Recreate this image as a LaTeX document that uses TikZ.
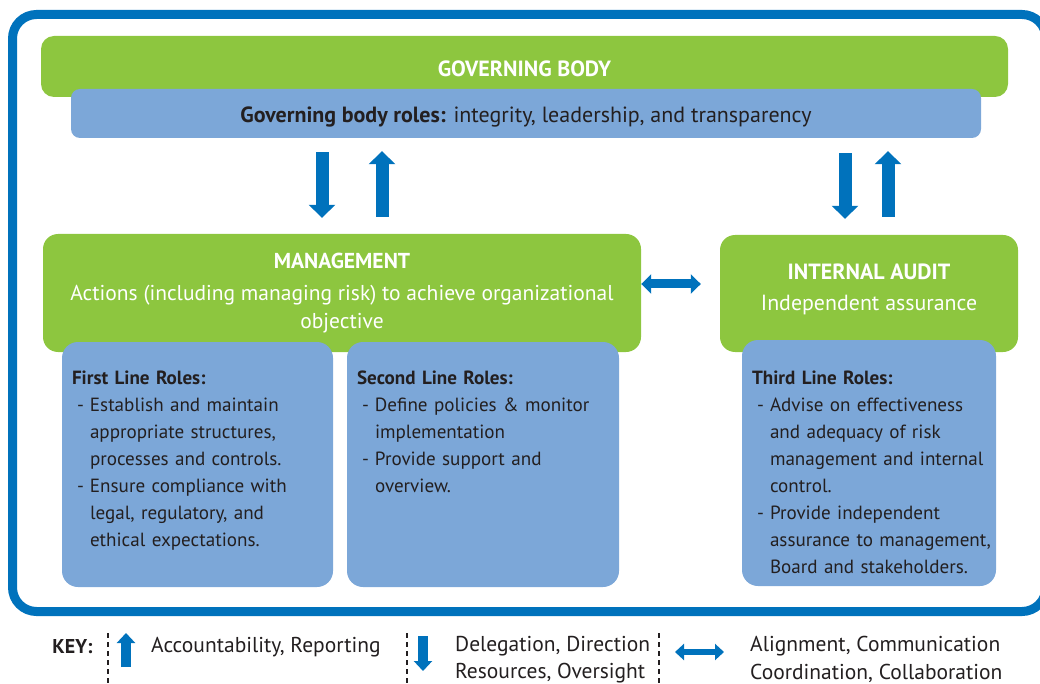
\documentclass[tikz,border=0pt]{standalone}
\usepackage{fontspec}
\setmainfont{PT Sans}
\usetikzlibrary{positioning,calc,arrows.meta}
\definecolor{theme}{RGB}{0,114,188}
\definecolor{leaf}{RGB}{141,198,63}
\definecolor{sky}{RGB}{124,167,216}
\definecolor{ink}{RGB}{35,31,32}
\setlength{\parindent}{0pt}
\newcommand{\roleitem}[1]{\par\hangindent=18pt\hangafter=1\makebox[18pt][l]{\hspace{5pt}-}#1\par}
\tikzset{
  greenbox/.style={fill=leaf, rounded corners=14pt, text=white, align=center},
  bluebox/.style={fill=sky, rounded corners=16pt},
  rolestext/.style={inner sep=0pt, text=ink, text width=262pt, align=left,
    font=\fontsize{19.1}{27}\selectfont},
  keytext/.style={inner sep=0pt, text=ink, align=left, font=\fontsize{21.5}{27.5}\selectfont},
  bigarrow/.style={draw=theme, line width=13pt, -{Triangle[width=26pt,length=13pt]}},
  linkarrow/.style={draw=theme, line width=9pt,
    {Triangle[width=19pt,length=10pt]}-{Triangle[width=19pt,length=10pt]}},
  keyarrow/.style={draw=theme, line width=10pt, -{Triangle[width=18pt,length=10pt]}},
  keylink/.style={draw=theme, line width=6pt,
    {Triangle[width=16pt,length=9pt]}-{Triangle[width=16pt,length=9pt]}},
  keysep/.style={draw=ink, line width=1.2pt, dash pattern=on 5pt off 4pt}
}

\begin{document}
\begin{tikzpicture}[x=1pt, y=-1pt]
  \useasboundingbox (0,0) rectangle (1040,684);
  % outer frame
  \draw[theme, line width=9pt, rounded corners=24pt] (12.5,14.5) rectangle (1046,611.5);

  % governing body
  \node[greenbox, minimum width=967pt, minimum height=61pt, rounded corners=13pt,
    text height=20pt, text depth=0pt,
    font=\bfseries\fontsize{22}{26}\selectfont] (gov) at (524.5,66.5) {GOVERNING BODY};
  \node[bluebox, minimum width=910pt, minimum height=49pt, rounded corners=9pt,
    text height=18pt, text depth=0pt,
    text=ink, font=\fontsize{22}{26}\selectfont] (roles) at (526,113.5)
    {\textbf{Governing body roles:} integrity, leadership, and transparency};

  % management and internal audit
  \node[greenbox, minimum width=598pt, minimum height=118pt, rounded corners=15pt,
    font=\fontsize{21.5}{28}\selectfont] (mgmt) at (342,293)
    {\textbf{\fontsize{21.6}{26}\selectfont MANAGEMENT}\\[4pt]
     Actions (including managing risk) to achieve organizational\\ objective};
  \node[greenbox, minimum width=298pt, minimum height=117pt, rounded corners=15pt]
    (audit) at (869,293.5) {};
  \node[text=white, align=center, font=\fontsize{21.9}{31}\selectfont] (audittext)
    at ($(audit.center)+(0,-4)$)
    {\textbf{\fontsize{22}{26}\selectfont INTERNAL AUDIT}\\ Independent assurance};

  % roles boxes
  \node[bluebox, minimum width=271pt, minimum height=245pt] (first) at (197.5,464.5) {};
  \node[bluebox, minimum width=272pt, minimum height=245pt] (second) at (483,464.5) {};
  \node[bluebox, minimum width=254pt, minimum height=246pt] (third) at (869,463) {};

  \node[rolestext, below right=24pt and 10pt of first.north west] (firsttext) {%
    \strut\textbf{First Line Roles:}
    \roleitem{Establish and maintain\newline appropriate structures,\newline processes and controls.}
    \roleitem{Ensure compliance with\newline legal, regulatory, and\newline ethical expectations.}};
  \node[rolestext, below right=24pt and 10pt of second.north west] (secondtext) {%
    \strut\textbf{Second Line Roles:}
    \roleitem{Define policies \& monitor\newline implementation}
    \roleitem{Provide support and\newline overview.}};
  \node[rolestext, below right=26pt and 10pt of third.north west] (thirdtext) {%
    \strut\textbf{Third Line Roles:}
    \roleitem{Advise on effectiveness\newline and adequacy of risk\newline management and internal\newline control.}
    \roleitem{Provide independent\newline assurance to management,\newline Board and stakeholders.}};

  % arrows
  \draw[bigarrow] ($(mgmt.north |- roles.south)+(-20,14)$) -- ($(mgmt.north)+(-20,-16)$);
  \draw[bigarrow] ($(mgmt.north)+(40,-17)$) -- ($(mgmt.north |- roles.south)+(40,13)$);
  \draw[bigarrow] ($(audit.north |- roles.south)+(-24,15)$) -- ($(audit.north)+(-24,-16)$);
  \draw[bigarrow] ($(audit.north)+(19,-18)$) -- ($(audit.north |- roles.south)+(19,13)$);
  \draw[linkarrow] ($(mgmt.east)+(0,-9)$) -- ($(audit.west)+(-19,-9.5)$);

  % key
  \node[keytext, font=\bfseries\fontsize{20}{28}\selectfont] (key) at (72.5,647) {KEY:};
  \node[keytext, anchor=west] (acc) at (151,647) {Accountability, Reporting};
  \node[keytext, anchor=west] (dele) at (455,659.5) {Delegation, Direction\\ Resources, Oversight};
  \node[keytext, anchor=west] (coord) at (750,659.5) {Alignment, Communication\\ Coordination, Collaboration};
  \draw[keysep] (108,633) -- (108,684);
  \draw[keysep] (407,633) -- (407,684);
  \draw[keysep] (659,633) -- (659,684);
  \draw[keyarrow] ($(acc.west)+(-25,20)$) -- ($(acc.west)+(-25,-14)$);
  \draw[keyarrow] ($(dele.west)+(-32,-23.5)$) -- ($(dele.west)+(-32,11.5)$);
  \draw[keylink] ($(coord.west)+(-75,-7.5)$) -- ($(coord.west)+(-26,-7.5)$);
\end{tikzpicture}
\end{document}
